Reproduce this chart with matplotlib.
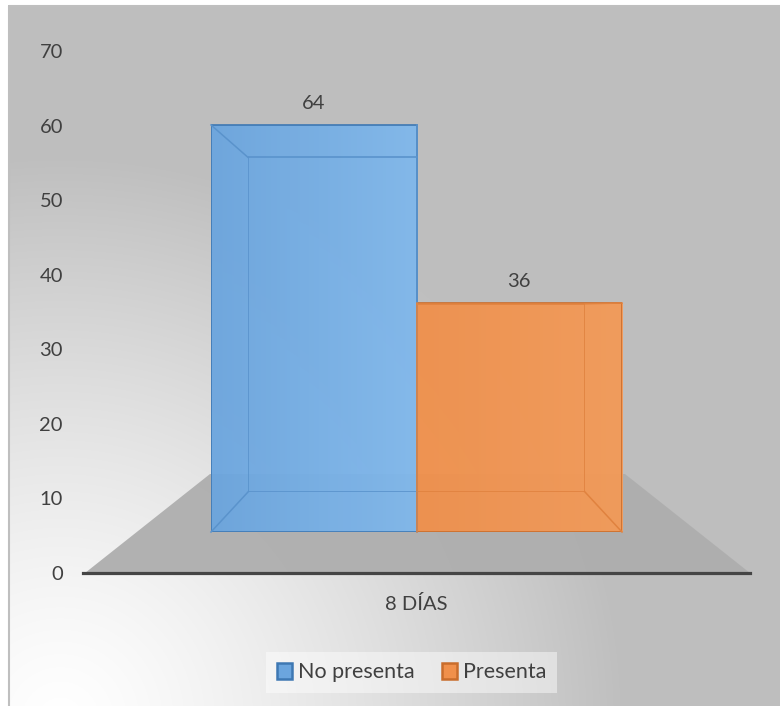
import numpy as np
import matplotlib
matplotlib.use("Agg")
import matplotlib.pyplot as plt
from matplotlib.patches import Rectangle, Polygon
from matplotlib.lines import Line2D

plt.rcParams['font.family'] = ['Lato', 'DejaVu Sans']

# ---- data ----
categories = ["8 DÍAS"]
series_names = ["No presenta", "Presenta"]
values = [64, 36]
yticks = [0, 10, 20, 30, 40, 50, 60, 70]

# ---- style ----
face_colors = ["#6ba5de", "#f0904b"]
light_colors = ["#80b8ec", "#f39a58"]
edge_colors = ["#3e78b3", "#c96d2c"]
inner_colors = ["#5a93cc", "#e0823f"]
text_color = "#404040"
FS = 14.5

W, H = 780, 706
fig = plt.figure(figsize=(W / 100, H / 100), dpi=100)
fig.patch.set_facecolor("white")

def fx(px):
    return px / W

def fy(py):
    return 1 - py / H

# background (pixel-coordinate overlay)
bg = fig.add_axes([0, 0, 1, 1], zorder=0)
bg.set_xlim(0, W)
bg.set_ylim(H, 0)
bg.axis("off")
yy, xx = np.mgrid[0:H, 0:W]
d = np.hypot(xx - 60, yy - 720)
t = np.clip(d / 560.0, 0, 1)
val = 1 - (1 - 0.749) * t ** 1.3
img = np.dstack([val, val, val])
bg.imshow(img[5:, 8:], extent=(8, W, H, 5), aspect="auto", interpolation="bilinear")
bg.add_patch(Rectangle((8.5, 5.5), W, H, fill=False, edgecolor="#bfbfbf", lw=1.5))

# floor
floor = Polygon([(85, 573), (750, 573), (625, 474), (210, 474)], closed=True,
                facecolor="#aeaeae", edgecolor="none", alpha=0.95, zorder=1)
bg.add_patch(floor)

# main axes with the value ticks
ax = fig.add_axes([fx(83), fy(573), fx(750) - fx(83), fy(51) - fy(573)], zorder=1)
ax.patch.set_alpha(0)
ax.set_ylim(0, 70)
ax.set_xlim(-1, 1)
ax.set_yticks(yticks)
ax.set_yticklabels([str(v) for v in yticks])
ax.set_xticks([0])
ax.set_xticklabels(categories)
for s in ["top", "right", "left"]:
    ax.spines[s].set_visible(False)
ax.spines["bottom"].set_color("#454545")
ax.spines["bottom"].set_linewidth(2.3)
ax.tick_params(axis="y", length=0, pad=14.4, labelsize=FS, labelcolor=text_color)
ax.tick_params(axis="x", length=0, pad=16, labelsize=FS, labelcolor=text_color)

xpos = [-0.5, 0.5]

# back faces of the boxes
ba = fig.add_axes([fx(248), fy(492), fx(585) - fx(248), fy(126) - fy(492)], zorder=3)
ba.set_xlim(-1, 1)
ba.set_ylim(0, 70)
ba.axis("off")
back_bars = ba.bar(xpos, values, width=1.0, facecolor="none",
                   edgecolor=inner_colors, linewidth=1.2)

# front faces
fa = fig.add_axes([fx(211), fy(532), fx(622) - fx(211), fy(86.8) - fy(532)], zorder=2)
fa.set_xlim(-1, 1)
fa.set_ylim(0, 70)
fa.axis("off")
bars = fa.bar(xpos, values, width=1.0, color=face_colors, edgecolor=edge_colors,
              linewidth=1.2, label=None)
for i, b in enumerate(bars):
    x0, y0 = b.get_x(), b.get_y()
    w, h = b.get_width(), b.get_height()
    c0 = np.array(matplotlib.colors.to_rgb(face_colors[i]))
    c1 = np.array(matplotlib.colors.to_rgb(light_colors[i]))
    g = np.linspace(0, 1, 64)[None, :, None]
    grad = c0[None, None, :] * (1 - g) + c1[None, None, :] * g
    grad = np.repeat(grad, 2, axis=0)
    im = fa.imshow(grad, extent=(x0, x0 + w, y0, y0 + h), aspect="auto",
                   interpolation="bilinear", zorder=1.5, alpha=0.95)
    im.set_clip_path(b)
    b.set_zorder(2)
    b.set_facecolor("none")
    fa.text(x0 + w / 2, y0 + h, f"{values[i]}", ha="center",
            va="bottom", fontsize=FS, color=text_color,
            transform=fa.transData + matplotlib.transforms.ScaledTranslation(0, 9.5 / 72, fig.dpi_scale_trans))

fa.set_xlim(-1, 1)
fa.set_ylim(0, 70)

# overlay for the box corner connectors (front -> back), via the axes' transforms
ov = fig.add_axes([0, 0, 1, 1], zorder=4)
ov.set_xlim(0, W)
ov.set_ylim(H, 0)
ov.axis("off")
fig.canvas.draw()
inv = ov.transData.inverted()
for i, b in enumerate(bars):
    x0 = b.get_x()
    for xc in (x0, x0 + b.get_width()):
        for yc in (0, values[i]):
            p1 = inv.transform(fa.transData.transform((xc, yc)))
            p2 = inv.transform(ba.transData.transform((xc, yc)))
            ov.add_line(Line2D([p1[0], p2[0]], [p1[1], p2[1]], color=inner_colors[i], lw=1.1))

# legend
handles = [Rectangle((0, 0), 1, 1, facecolor=face_colors[i], edgecolor=edge_colors[i], lw=1.8)
           for i in range(len(series_names))]
leg = fig.legend(handles, series_names, loc="center", ncol=2,
                 bbox_to_anchor=(fx(411.5), fy(672.5)), frameon=True, fancybox=False,
                 fontsize=15.5, handlelength=0.7, handleheight=0.7, handletextpad=0.25,
                 columnspacing=1.3, borderpad=0.5)
leg.get_frame().set_facecolor("white")
leg.get_frame().set_alpha(0.45)
leg.get_frame().set_edgecolor("none")
for txt in leg.get_texts():
    txt.set_color(text_color)

fig.savefig("out.png", dpi=100)
